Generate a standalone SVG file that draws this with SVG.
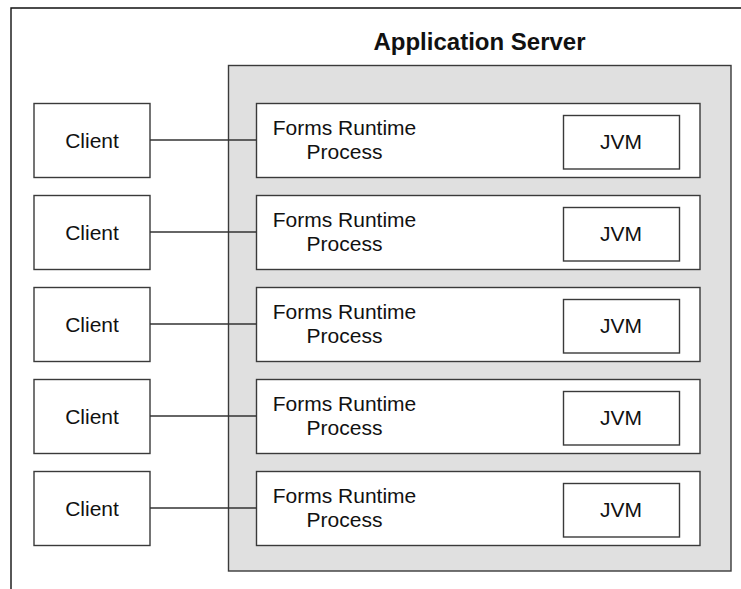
<svg xmlns="http://www.w3.org/2000/svg" width="741" height="589" viewBox="0 0 741 589">
<style>
.frame{fill:none;stroke:#111;stroke-width:1.4}
.server{fill:#e0e0e0;stroke:#3a3a3a;stroke-width:1.4}
.box{fill:#fff;stroke:#3a3a3a;stroke-width:1.4}
.conn{stroke:#333;stroke-width:1.4;fill:none}
text{font-family:"Liberation Sans",Arial,Helvetica,sans-serif;font-size:21px;fill:#111;text-anchor:middle}
.title{font-weight:bold;font-size:24px}
</style>
<rect width="741" height="589" fill="#fff"/>
<path class="frame" d="M11,589 V8 H741"/>
<g id="app-server">
<rect class="server" x="228.5" y="65.5" width="502.5" height="505.5"/>
<text class="title" x="479.5" y="49.5">Application Server</text>
</g>
<g id="process1"><rect class="box" x="256.5" y="103.5" width="443.5" height="74"/><text x="344.5" y="135">Forms Runtime</text><text x="344.5" y="159">Process</text></g>
<g id="jvm1"><rect class="box" x="563.5" y="115.5" width="116" height="53.5"/><text x="621" y="149">JVM</text></g>
<g id="process2"><rect class="box" x="256.5" y="195.5" width="443.5" height="74"/><text x="344.5" y="227">Forms Runtime</text><text x="344.5" y="251">Process</text></g>
<g id="jvm2"><rect class="box" x="563.5" y="207.5" width="116" height="53.5"/><text x="621" y="241">JVM</text></g>
<g id="process3"><rect class="box" x="256.5" y="287.5" width="443.5" height="74"/><text x="344.5" y="319">Forms Runtime</text><text x="344.5" y="343">Process</text></g>
<g id="jvm3"><rect class="box" x="563.5" y="299.5" width="116" height="53.5"/><text x="621" y="333">JVM</text></g>
<g id="process4"><rect class="box" x="256.5" y="379.5" width="443.5" height="74"/><text x="344.5" y="411">Forms Runtime</text><text x="344.5" y="435">Process</text></g>
<g id="jvm4"><rect class="box" x="563.5" y="391.5" width="116" height="53.5"/><text x="621" y="425">JVM</text></g>
<g id="process5"><rect class="box" x="256.5" y="471.5" width="443.5" height="74"/><text x="344.5" y="503">Forms Runtime</text><text x="344.5" y="527">Process</text></g>
<g id="jvm5"><rect class="box" x="563.5" y="483.5" width="116" height="53.5"/><text x="621" y="517">JVM</text></g>
<g id="client1"><rect class="box" x="34" y="103.5" width="116" height="74"/><text x="92" y="148">Client</text></g>
<g id="client2"><rect class="box" x="34" y="195.5" width="116" height="74"/><text x="92" y="240">Client</text></g>
<g id="client3"><rect class="box" x="34" y="287.5" width="116" height="74"/><text x="92" y="332">Client</text></g>
<g id="client4"><rect class="box" x="34" y="379.5" width="116" height="74"/><text x="92" y="424">Client</text></g>
<g id="client5"><rect class="box" x="34" y="471.5" width="116" height="74"/><text x="92" y="516">Client</text></g>
<g id="connectors">
<line class="conn" x1="150" y1="140" x2="256.5" y2="140"/>
<line class="conn" x1="150" y1="232" x2="256.5" y2="232"/>
<line class="conn" x1="150" y1="324" x2="256.5" y2="324"/>
<line class="conn" x1="150" y1="416" x2="256.5" y2="416"/>
<line class="conn" x1="150" y1="508" x2="256.5" y2="508"/>
</g>
</svg>
